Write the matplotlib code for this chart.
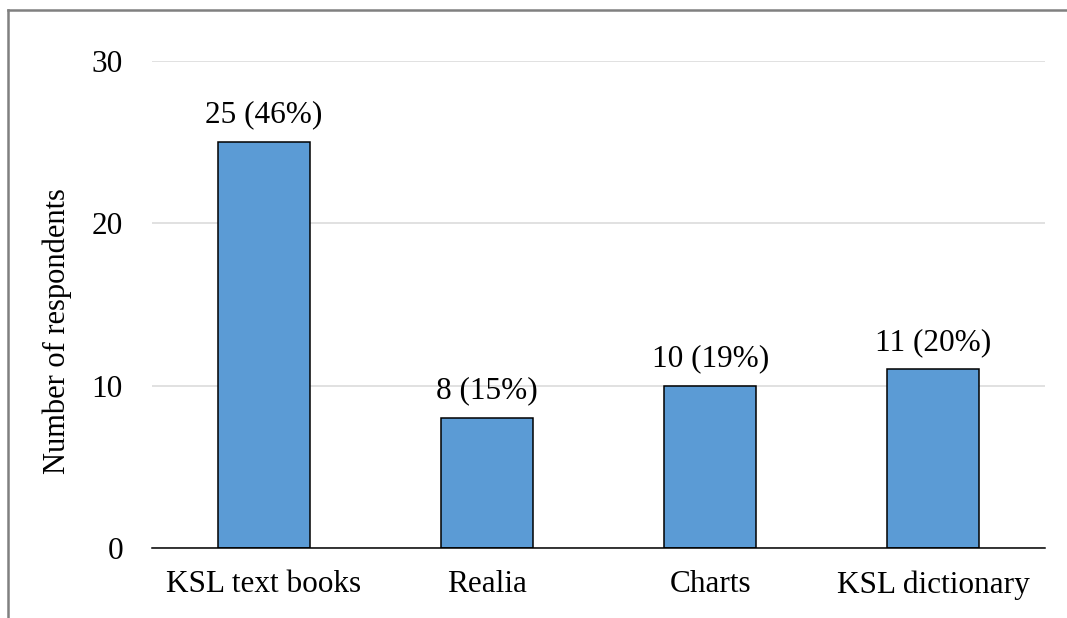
import matplotlib

matplotlib.use("Agg")
import matplotlib.pyplot as plt
from matplotlib.lines import Line2D

categories = ["KSL text books", "Realia", "Charts", "KSL dictionary"]
counts = [25, 8, 10, 11]
shares = [46, 15, 19, 20]
y_ticks = [0, 10, 20, 30]

BAR = "#5B9BD5"
GRID = "#D9D9D9"
FRAME = "#808080"

plt.rcParams["font.family"] = ["Liberation Serif", "DejaVu Serif"]

fig = plt.figure(figsize=(10.67, 6.18), dpi=100)
ax = fig.add_axes((0.1425, 0.1133, 0.8369, 0.788))

x = range(len(categories))
ax.bar(x, counts, width=0.413, color=BAR, edgecolor="black", linewidth=1.1, zorder=3)

for xi, n, pct in zip(x, counts, shares):
    ax.annotate(f"{n} ({pct}%)", (xi, n), xytext=(0, 9), textcoords="offset points",
                ha="center", va="bottom", fontsize=22.5, color="black")

ax.set_xlim(-0.5, len(categories) - 0.5)
ax.set_ylim(0, 30)
ax.set_yticks(y_ticks)
ax.set_xticks(list(x))
ax.set_xticklabels(categories)
ax.tick_params(axis="both", length=0, labelsize=22.5, colors="black")
ax.tick_params(axis="x", pad=16)
ax.tick_params(axis="y", pad=21)

ax.grid(axis="y", color=GRID, linewidth=1.1, zorder=0)
ax.set_axisbelow(True)
for side in ("left", "right", "top"):
    ax.spines[side].set_visible(False)
ax.spines["bottom"].set_color("black")
ax.spines["bottom"].set_linewidth(1.1)
ax.spines["bottom"].set_zorder(4)

ax.set_ylabel("Number of respondents", fontsize=22, color="black")
ax.yaxis.set_label_coords(-0.09, 0.446)

# chart-area frame, cropped on the right and bottom
fx = 7.5 / 1067
fy = 1 - 9.5 / 618
fig.add_artist(Line2D([fx, 1.0], [fy, fy], transform=fig.transFigure, color=FRAME, lw=1.8))
fig.add_artist(Line2D([fx, fx], [0.0, fy], transform=fig.transFigure, color=FRAME, lw=1.8))

fig.savefig("out.png", dpi=100, facecolor="white")
